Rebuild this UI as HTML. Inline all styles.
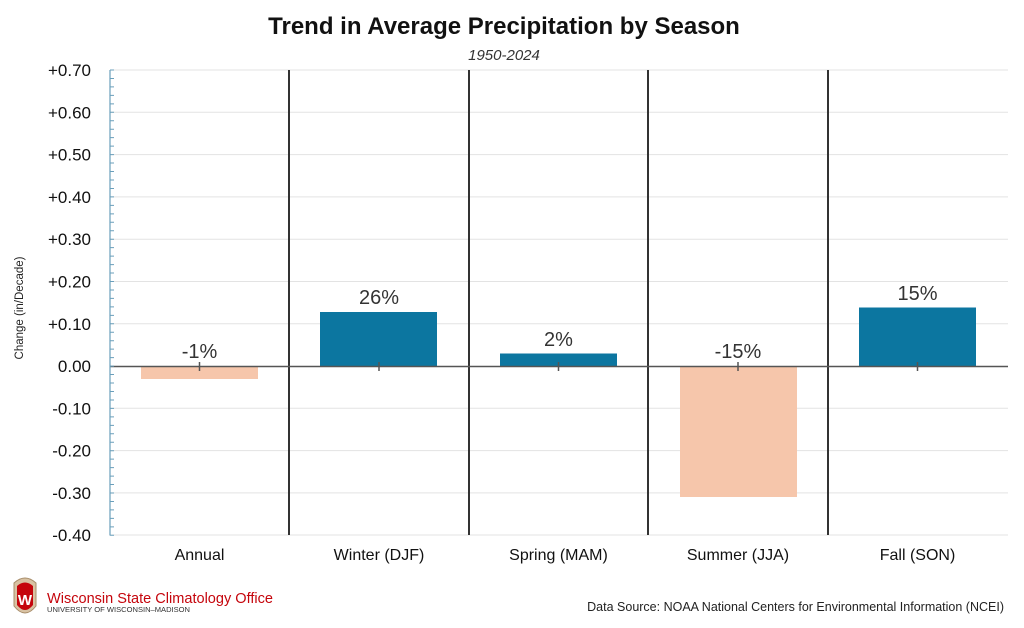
<!DOCTYPE html>
<html><head><meta charset="utf-8"><style>
html,body{margin:0;padding:0;background:#fff;}
svg text{font-family:"Liberation Sans",sans-serif;}
</style></head><body>
<svg width="1024" height="623" viewBox="0 0 1024 623" xmlns="http://www.w3.org/2000/svg">
<text x="504" y="34" text-anchor="middle" font-size="24" font-weight="bold" fill="#111">Trend in Average Precipitation by Season</text>
<text x="504" y="60" text-anchor="middle" font-size="15" font-style="italic" fill="#333">1950-2024</text>
<g stroke="#e3e3e3" stroke-width="1">
<line x1="110" x2="1008" y1="70" y2="70"/>
<line x1="110" x2="1008" y1="112.3" y2="112.3"/>
<line x1="110" x2="1008" y1="154.6" y2="154.6"/>
<line x1="110" x2="1008" y1="196.9" y2="196.9"/>
<line x1="110" x2="1008" y1="239.2" y2="239.2"/>
<line x1="110" x2="1008" y1="281.5" y2="281.5"/>
<line x1="110" x2="1008" y1="323.8" y2="323.8"/>
<line x1="110" x2="1008" y1="408.3" y2="408.3"/>
<line x1="110" x2="1008" y1="450.6" y2="450.6"/>
<line x1="110" x2="1008" y1="492.9" y2="492.9"/>
<line x1="110" x2="1008" y1="535" y2="535"/>
</g>
<g stroke="#333" stroke-width="2">
<line x1="289" x2="289" y1="70" y2="535"/>
<line x1="469" x2="469" y1="70" y2="535"/>
<line x1="648" x2="648" y1="70" y2="535"/>
<line x1="828" x2="828" y1="70" y2="535"/>
</g>
<rect x="141" y="366" width="117" height="13" fill="#f6c6ab"/>
<rect x="320" y="312" width="117" height="54" fill="#0c76a0"/>
<rect x="500" y="353.5" width="117" height="12.5" fill="#0c76a0"/>
<rect x="680" y="366" width="117" height="131" fill="#f6c6ab"/>
<rect x="859" y="307.5" width="117" height="58.5" fill="#0c76a0"/>
<line x1="110" x2="1008" y1="366.5" y2="366.5" stroke="#555" stroke-width="1.5"/>
<g stroke="#555" stroke-width="1.5">
<line x1="199.5" x2="199.5" y1="362" y2="371"/>
<line x1="379" x2="379" y1="362" y2="371"/>
<line x1="558.5" x2="558.5" y1="362" y2="371"/>
<line x1="738" x2="738" y1="362" y2="371"/>
<line x1="917.5" x2="917.5" y1="362" y2="371"/>
</g>
<line x1="110" x2="110" y1="70" y2="535.5" stroke="#6a9fbb" stroke-width="1.2"/>
<line x1="112" x2="112" y1="69.5" y2="536" stroke="#6a9fbb" stroke-width="4" stroke-dasharray="1 7.46"/>
<g font-size="17" fill="#111" text-anchor="end">
<text x="91" y="76">+0.70</text>
<text x="91" y="118.3">+0.60</text>
<text x="91" y="160.6">+0.50</text>
<text x="91" y="202.9">+0.40</text>
<text x="91" y="245.2">+0.30</text>
<text x="91" y="287.5">+0.20</text>
<text x="91" y="329.8">+0.10</text>
<text x="91" y="372">0.00</text>
<text x="91" y="414.3">-0.10</text>
<text x="91" y="456.6">-0.20</text>
<text x="91" y="498.9">-0.30</text>
<text x="91" y="541">-0.40</text>
</g>
<text transform="translate(23,308) rotate(-90)" text-anchor="middle" font-size="11.5" fill="#222">Change (in/Decade)</text>
<g font-size="20" fill="#333" text-anchor="middle">
<text x="199.5" y="358">-1%</text>
<text x="379" y="304">26%</text>
<text x="558.5" y="346">2%</text>
<text x="738" y="358">-15%</text>
<text x="917.5" y="300">15%</text>
</g>
<g font-size="16" fill="#111" text-anchor="middle">
<text x="199.5" y="560">Annual</text>
<text x="379" y="560">Winter (DJF)</text>
<text x="558.5" y="560">Spring (MAM)</text>
<text x="738" y="560">Summer (JJA)</text>
<text x="917.5" y="560">Fall (SON)</text>
</g>
<path d="M14 583 Q25 573 36 583 L36 606 Q25 620 14 606 Z" fill="#d8c2a3" stroke="#a88d6a"/>
<path d="M17 586 Q25 579 33 586 L33 605 Q25 615 17 605 Z" fill="#c5050c"/>
<text x="25" y="605" text-anchor="middle" font-size="15" font-weight="bold" fill="#fff">W</text>
<text x="47" y="603" font-size="15" fill="#c5050c" textLength="226" lengthAdjust="spacingAndGlyphs">Wisconsin State Climatology Office</text>
<text x="47" y="612" font-size="7.5" fill="#333" textLength="143" lengthAdjust="spacingAndGlyphs">UNIVERSITY OF WISCONSIN–MADISON</text>
<text x="1004" y="611" text-anchor="end" font-size="12.5" fill="#222">Data Source: NOAA National Centers for Environmental Information (NCEI)</text>
</svg>
</body></html>
